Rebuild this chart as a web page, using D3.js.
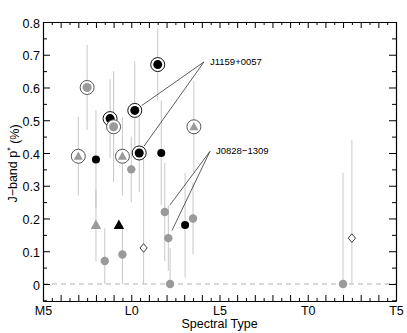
<!DOCTYPE html>
<html>
<head>
<meta charset="utf-8">
<script src="https://cdnjs.cloudflare.com/ajax/libs/d3/7.8.5/d3.min.js"></script>
<style>
  body { margin: 0; background: #fff; }
  text { font-family: "Liberation Sans", Arial, sans-serif; }
</style>
</head>
<body>
<div id="chart"></div>
<script>
"use strict";

// spectral type as number: M5=5, L0=10, L5=15, T0=20, T5=25
var spt    = [7.0, 7.5, 8.0, 8.0, 8.5, 8.8, 9.0, 9.5, 9.3, 9.5, 10.0, 10.2, 10.45, 10.7, 11.5, 11.7, 11.9, 12.1, 12.2, 13.05, 13.5, 13.55, 22.0, 22.5];
var pol    = [0.39, 0.60, 0.38, 0.18, 0.07, 0.505, 0.48, 0.39, 0.18, 0.09, 0.35, 0.53, 0.40, 0.11, 0.67, 0.40, 0.22, 0.14, 0.00, 0.18, 0.20, 0.48, 0.00, 0.14];
var polErr = [0.12, 0.13, 0.15, 0.11, 0.10, 0.12, 0.17, 0.12, 0.00, 0.09, 0.10, 0.15, 0.12, 0.30, 0.11, 0.16, 0.15, 0.10, 0.11, 0.16, 0.11, 0.14, 0.34, 0.30];
// marker: c = circle, t = triangle, d = open diamond
var shape  = ["t", "c", "c", "t", "c", "c", "c", "t", "t", "c", "c", "c", "c", "d", "c", "c", "c", "c", "c", "c", "c", "t", "c", "d"];
// g = gray, k = black
var tone   = ["g", "g", "k", "g", "g", "k", "g", "g", "k", "g", "g", "k", "k", "g", "k", "k", "g", "g", "g", "k", "g", "g", "g", "g"];
var ringed = [1, 1, 0, 0, 0, 1, 1, 1, 0, 0, 0, 1, 1, 0, 1, 0, 0, 0, 0, 0, 0, 1, 0, 0];

var xTickVals = [5, 10, 15, 20, 25];
var xTickLabels = ["M5", "L0", "L5", "T0", "T5"];
var yTickVals = [0, 0.1, 0.2, 0.3, 0.4, 0.5, 0.6, 0.7, 0.8];

// labelled objects: label, anchor (spt, p), indices of points it points to
var notes = [
  { name: "J1159+0057", x: 14.12, y: 0.678, targets: [11, 12] },
  { name: "J0828\u22121309", x: 14.46, y: 0.405, targets: [16, 17] }
];

var data = spt.map(function (s, i) {
  return { spt: s, p: pol[i], err: polErr[i], shape: shape[i], tone: tone[i], ring: ringed[i] };
});

var W = 407, H = 333;
var margin = { top: 22, right: 11, bottom: 32, left: 43 };

var svg = d3.select("#chart").append("svg")
  .attr("width", W).attr("height", H);

var x = d3.scaleLinear().domain([5, 25]).range([margin.left, W - margin.right]);
var y = d3.scaleLinear().domain([-0.052, 0.8]).range([H - margin.bottom, margin.top]);

var gray = "#9a9a9a";
var barColor = "#c8c8c8";

// zero line
svg.append("line")
  .attr("x1", x(5)).attr("x2", x(25))
  .attr("y1", y(0)).attr("y2", y(0))
  .attr("stroke", "#b0b0b0")
  .attr("stroke-dasharray", "5,4");

// error bars, clipped at zero
svg.selectAll(".ebar")
  .data(data.filter(function (d) { return d.err > 0; }))
  .enter().append("line")
  .attr("class", "ebar")
  .attr("x1", function (d) { return x(d.spt); })
  .attr("x2", function (d) { return x(d.spt); })
  .attr("y1", function (d) { return y(Math.max(0, d.p - d.err)); })
  .attr("y2", function (d) { return y(d.p + d.err); })
  .attr("stroke", barColor)
  .attr("stroke-width", 1);

// annotation lines
notes.forEach(function (n) {
  var ax = x(n.x), ay = y(n.y);
  n.targets.forEach(function (i) {
    var px = x(data[i].spt), py = y(data[i].p);
    var dx = ax - px, dy = ay - py, len = Math.sqrt(dx * dx + dy * dy);
    svg.append("line")
      .attr("x1", ax).attr("y1", ay)
      .attr("x2", px + dx / len * 8.5).attr("y2", py + dy / len * 8.5)
      .attr("stroke", "#333").attr("stroke-width", 0.8);
  });
  svg.append("text")
    .attr("x", ax + 6).attr("y", ay + 3)
    .attr("font-size", "9.5px")
    .text(n.name);
});

// markers
var pts = svg.selectAll(".pt").data(data).enter().append("g")
  .attr("class", "pt")
  .attr("transform", function (d) { return "translate(" + x(d.spt) + "," + y(d.p) + ")"; });

pts.filter(function (d) { return d.ring; }).append("circle")
  .attr("r", 7)
  .attr("fill", "#fff")
  .attr("stroke", function (d) { return d.tone == "k" ? "#111" : "#555"; })
  .attr("stroke-width", 1);

pts.filter(function (d) { return d.shape == "c"; }).append("circle")
  .attr("r", function (d) { return d.ring ? 4.5 : (d.tone == "k" ? 4 : 4.2); })
  .attr("fill", function (d) { return d.tone == "k" ? "#000" : gray; });

pts.filter(function (d) { return d.shape == "t"; }).append("path")
  .attr("d", function (d) {
    var s = d.ring ? 4.8 : 5.5;
    return "M0," + (-s) + "L" + (s * 0.95) + "," + (s * 0.72) + "L" + (-s * 0.95) + "," + (s * 0.72) + "Z";
  })
  .attr("fill", function (d) { return d.tone == "k" ? "#000" : gray; });

pts.filter(function (d) { return d.shape == "d"; }).append("path")
  .attr("d", "M0,-4.3L3.6,0L0,4.3L-3.6,0Z")
  .attr("fill", "#fff")
  .attr("stroke", "#222")
  .attr("stroke-width", 0.9);

// axes: ticks point inward
var x0 = x.range()[0], x1 = x.range()[1], y0 = y.range()[0], y1 = y.range()[1];
var xMinor = d3.range(5, 25.01, 0.5);
var yMinor = d3.range(-0.05, 0.801, 0.05);

var xBottom = d3.axisBottom(x).tickValues(xMinor).tickFormat("")
  .tickSizeInner(0).tickSizeOuter(0);
var gB = svg.append("g").attr("transform", "translate(0," + y0 + ")").call(xBottom);
gB.selectAll(".tick line")
  .attr("y2", function (d) { return Math.abs(d - Math.round(d)) < 0.01 ? -6 : -3; });

var gT = svg.append("g").attr("transform", "translate(0," + y1 + ")").call(d3.axisTop(x).tickValues(xMinor).tickFormat("").tickSizeInner(0).tickSizeOuter(0));
gT.selectAll(".tick line")
  .attr("y2", function (d) { return Math.abs(d - Math.round(d)) < 0.01 ? 6 : 3; });

var gL = svg.append("g").attr("transform", "translate(" + x0 + ",0)").call(d3.axisLeft(y).tickValues(yMinor).tickFormat("").tickSizeInner(0).tickSizeOuter(0));
gL.selectAll(".tick line")
  .attr("x2", function (d) { return Math.abs(d * 10 - Math.round(d * 10)) < 0.01 ? 7 : 4; });

var gR = svg.append("g").attr("transform", "translate(" + x1 + ",0)").call(d3.axisRight(y).tickValues(yMinor).tickFormat("").tickSizeInner(0).tickSizeOuter(0));
gR.selectAll(".tick line")
  .attr("x2", function (d) { return Math.abs(d * 10 - Math.round(d * 10)) < 0.01 ? -7 : -4; });

svg.selectAll(".domain").attr("stroke", "#000").attr("stroke-width", 1.2);
svg.selectAll(".tick line").attr("stroke", "#000").attr("stroke-width", 1);

// tick labels
svg.append("g").attr("transform", "translate(0," + y0 + ")")
  .call(d3.axisBottom(x).tickValues(xTickVals).tickSize(0).tickPadding(5)
    .tickFormat(function (d, i) { return xTickLabels[i]; }))
  .call(function (g) { g.select(".domain").remove(); })
  .selectAll("text").attr("font-size", "12.5px").attr("fill", "#000")
  .style("font-family", "'Liberation Sans', Arial, sans-serif");

svg.append("g").attr("transform", "translate(" + x0 + ",0)")
  .call(d3.axisLeft(y).tickValues(yTickVals).tickSize(0).tickPadding(3)
    .tickFormat(function (d) { return d == 0 ? "0" : d3.format(".1f")(d); }))
  .call(function (g) { g.select(".domain").remove(); })
  .selectAll("text").attr("font-size", "12.5px").attr("fill", "#000").attr("dy", "0.42em")
  .style("font-family", "'Liberation Sans', Arial, sans-serif");

// axis titles
svg.append("text")
  .attr("x", (x0 + x1) / 2).attr("y", 328)
  .attr("text-anchor", "middle")
  .attr("font-size", "12.5px")
  .text("Spectral Type");

var yt = svg.append("text")
  .attr("transform", "translate(17," + ((y0 + y1) / 2 + 2) + ") rotate(-90)")
  .attr("text-anchor", "middle")
  .attr("font-size", "12.5px");
yt.append("tspan").text("J\u2212band p");
yt.append("tspan").attr("dy", "-0.45em").attr("font-size", "9px").text("*");
yt.append("tspan").attr("dy", "0.45em").text(" (%)");
</script>
</body>
</html>
